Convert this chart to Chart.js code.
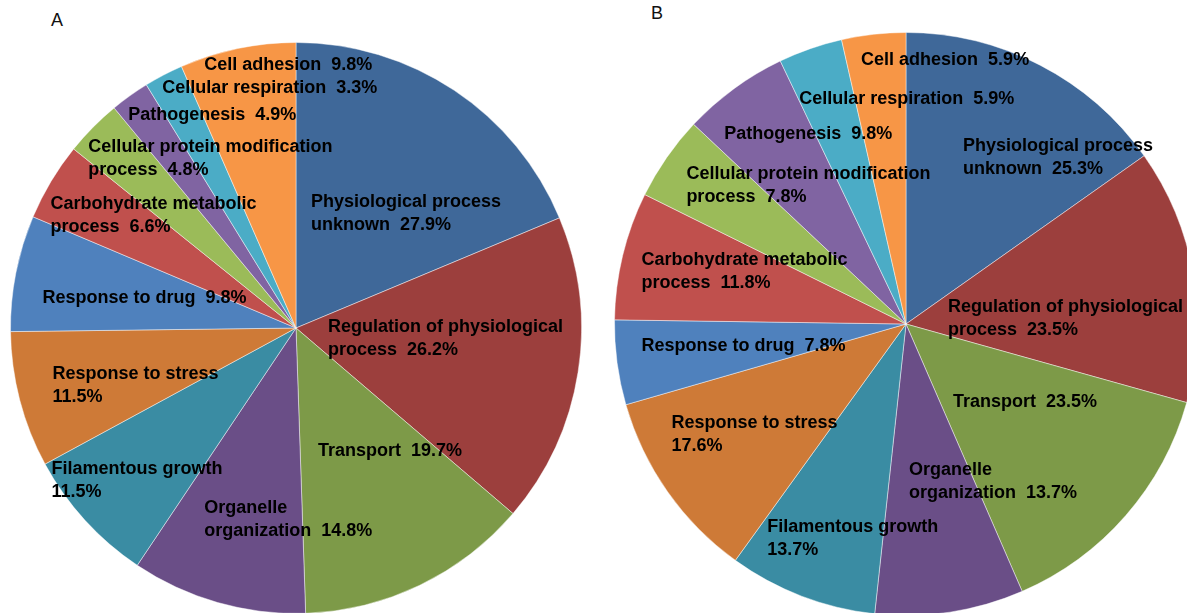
<!DOCTYPE html>
<html lang="en">
<head>
    <meta charset="UTF-8">
    <title>GO process distribution A / B</title>
    <script src="https://cdn.jsdelivr.net/npm/chart.js"></script>
    <style>
        html, body {
            margin: 0;
            padding: 0;
            width: 1187px;
            height: 613px;
            overflow: hidden;
            background: #fff;
            font-family: 'Liberation Sans', Arial, sans-serif;
        }
        .panel-tag {
            position: absolute;
            font-size: 18px;
            color: #111;
        }
        .pie-box {
            position: absolute;
        }
    </style>
</head>
<body>
    <div class="panel-tag" style="left:51px; top:10px;">A</div>
    <div class="panel-tag" style="left:651px; top:3px;">B</div>

    <div class="pie-box" style="left:10px; top:42px;">
        <canvas id="pieA" width="572" height="572"></canvas>
    </div>
    <div class="pie-box" style="left:614px; top:32px;">
        <canvas id="pieB" width="584" height="584"></canvas>
    </div>

    <script>
        // categories (clockwise from 12 o'clock)
        const categories = [
            'Physiological process unknown',
            'Regulation of physiological process',
            'Transport',
            'Organelle organization',
            'Filamentous growth',
            'Response to stress',
            'Response to drug',
            'Carbohydrate metabolic process',
            'Cellular protein modification process',
            'Pathogenesis',
            'Cellular respiration',
            'Cell adhesion'
        ];
        // percentages printed on the labels
        const printedA = [27.9, 26.2, 19.7, 14.8, 11.5, 11.5, 9.8, 6.6, 4.8, 4.9, 3.3, 9.8];
        const printedB = [25.3, 23.5, 23.5, 13.7, 13.7, 17.6, 7.8, 11.8, 7.8, 9.8, 5.9, 5.9];
        // slice sizes as drawn (A's pathogenesis slice is drawn the same size as cellular respiration)
        const sliceA = [27.9, 26.2, 19.7, 14.8, 11.5, 11.5, 9.8, 6.6, 4.8, 3.3, 3.3, 9.8];
        const sliceB = [25.3, 23.5, 23.5, 13.7, 13.7, 17.6, 7.8, 11.8, 7.8, 9.8, 5.9, 5.9];

        const sliceColors = [
            '#3F6899', '#9C3F3D', '#7D9A48', '#6A4E87', '#3A8CA3', '#CE7A37',
            '#4F81BD', '#C0504D', '#9BBB59', '#8064A2', '#4BACC6', '#F79646'
        ];

        // how many words of the name go on the first line (0 = one line)
        const wordBreaks = [2, 3, 0, 1, 2, 3, 0, 2, 3, 0, 0, 0];

        // label anchors: left edge / first line middle, px from the pie centre at the reference radius
        const labelPosA = { refR: 286, pos: [
            [15, -126], [32, -1], [22, 123], [-92, 180], [-245, 141], [-244, 46],
            [-254, -30], [-246, -124], [-208, -181], [-168, -213], [-134, -240], [-92, -263]
        ]};
        const labelPosB = { refR: 292, pos: [
            [57, -178], [42, -17], [47, 78], [3, 146], [-139, 203], [-235, 99],
            [-265, 22], [-265, -64], [-220, -150], [-182, -190], [-107, -225], [-45, -264]
        ]};

        function labelLines(name, value, brk) {
            const words = name.split(' ');
            const pct = value.toFixed(1) + '%';
            if (!brk) return [name + '  ' + pct];
            const first = words.slice(0, brk).join(' ');
            const rest = words.slice(brk).join(' ');
            return [first, rest ? rest + '  ' + pct : pct];
        }

        const sliceLabels = {
            id: 'sliceLabels',
            afterDatasetsDraw(chart, args, opts) {
                const ctx = chart.ctx;
                const meta = chart.getDatasetMeta(0);
                ctx.save();
                ctx.font = 'bold 18px "Liberation Sans", Arial, sans-serif';
                ctx.fillStyle = '#000';
                ctx.textAlign = 'left';
                ctx.textBaseline = 'middle';
                meta.data.forEach((arc, i) => {
                    const k = arc.outerRadius / opts.layout.refR;
                    const p = opts.layout.pos[i];
                    const x = arc.x + p[0] * k;
                    const y = arc.y + p[1] * k;
                    labelLines(chart.data.labels[i], opts.printed[i], wordBreaks[i]).forEach((line, j) => {
                        ctx.fillText(line, x, y + j * 23);
                    });
                });
                ctx.restore();
            }
        };

        function makePie(id, slices, printed, layout) {
            return new Chart(document.getElementById(id), {
                type: 'pie',
                data: {
                    labels: categories,
                    datasets: [{
                        data: slices,
                        backgroundColor: sliceColors,
                        borderColor: 'rgba(255,255,255,0.45)',
                        borderWidth: 1
                    }]
                },
                options: {
                    responsive: false,
                    animation: false,
                    layout: { padding: 0 },
                    plugins: {
                        legend: { display: false },
                        tooltip: { enabled: false },
                        sliceLabels: { layout: layout, printed: printed }
                    }
                },
                plugins: [sliceLabels]
            });
        }

        makePie('pieA', sliceA, printedA, labelPosA);
        makePie('pieB', sliceB, printedB, labelPosB);
    </script>
</body>
</html>
